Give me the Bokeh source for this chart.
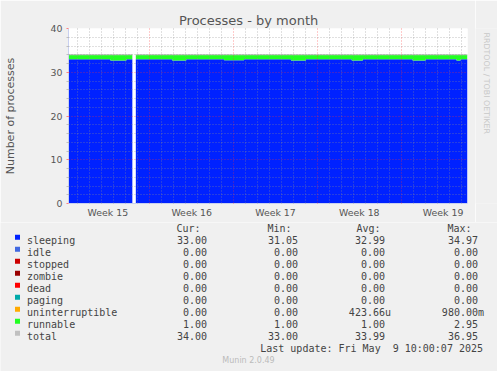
import math
from bokeh.plotting import figure
from bokeh.layouts import column, row
from bokeh.models import (ColumnDataSource, FixedTicker, Grid, LinearAxis, Range1d, Title)
from bokeh.core.properties import value
from bokeh.embed import file_html
from bokeh.resources import INLINE

NAN = float("nan")

# ---------------- data ----------------
# time axis: hours from the left edge of the month graph (800 h are shown)
graph_hours = 800
seg_start_h = [0, 84, 116, 128, 135, 208, 236, 312, 352, 446, 476, 568, 590, 690, 716, 778, 786]
sleeping = [33.0, 32.7, 33.0, NAN, 33.0, 32.7, 33.0, 32.75, 33.0, 32.7, 33.0, 32.7, 33.0, 32.7, 33.0, 32.7, 33.0]
runnable = [1.0, 1.3, 1.0, NAN, 1.0, 1.3, 1.0, 1.25, 1.0, 1.3, 1.0, 1.3, 1.0, 1.3, 1.0, 1.3, 1.0]
total = [34.0, 34.0, 34.0, NAN, 34.0, 34.0, 34.0, 34.0, 34.0, 34.0, 34.0, 34.0, 34.0, 34.0, 34.0, 34.0, 34.0]

week_labels = ["Week 15", "Week 16", "Week 17", "Week 18", "Week 19"]
week_center_h = [79, 247, 415, 583, 751]
week_boundary_h = [163, 331, 499, 667]
y_ticks = [0, 10, 20, 30, 40]
y_max = 40

legend_names = ["sleeping", "idle", "stopped", "zombie", "dead", "paging",
                "uninterruptible", "runnable", "total"]
legend_colors = ["#0022ff", "#4169e1", "#cc0000", "#990000", "#ff0000", "#00aaaa",
                 "#ffaa00", "#22ff22", "#c0c0c0"]
cur_vals = ["33.00", "0.00", "0.00", "0.00", "0.00", "0.00", "0.00", "1.00", "34.00"]
min_vals = ["31.05", "0.00", "0.00", "0.00", "0.00", "0.00", "0.00", "1.00", "33.00"]
avg_vals = ["32.99", "0.00", "0.00", "0.00", "0.00", "0.00", "423.66u", "1.00", "33.99"]
max_vals = ["34.97", "0.00", "0.00", "0.00", "0.00", "0.00", "980.00m", "2.95", "36.95"]
col_headers = ["Cur:", "Min:", "Avg:", "Max:"]
last_update = "Last update: Fri May  9 10:00:07 2025"
title_text = "Processes - by month"
y_label = "Number of processes"
side_text = "RRDTOOL / TOBI OETIKER"
footer_text = "Munin 2.0.49"

# ---------------- layout constants ----------------
W, H = 497, 371
FL, FR, FT, FB = 67, 467, 28, 203          # graph frame edges on the page
CHART_W, CHART_H = 475, 222
MONO = "DejaVu Sans Mono"
SANS = "DejaVu Sans"
TXT = "#555555"
LEG = "#444444"
BG = "#f0f0f0"

# ---------------- chart ----------------
p = figure(width=CHART_W, height=CHART_H, x_range=Range1d(0, graph_hours), y_range=Range1d(0, y_max),
           x_axis_type=None, y_axis_type=None, toolbar_location=None,
           output_backend="svg", min_border_left=FL, min_border_right=CHART_W - FR,
           min_border_top=FT, min_border_bottom=CHART_H - FB,
           background_fill_color="white", border_fill_color=BG, outline_line_color=None)
p.title = Title(text=title_text, align="left", offset=110.5, standoff=2,
                text_font=SANS, text_font_size="13px", text_font_style="normal",
                text_color=TXT)


def step_chunks(starts, end, *series):
    chunks, cur = [], None
    for i, t0 in enumerate(starts):
        t1 = starts[i + 1] if i + 1 < len(starts) else end
        vals = [s[i] for s in series]
        if any(math.isnan(v) for v in vals):
            cur = None
            continue
        if cur is None:
            cur = {"x": []}
            for k in range(len(series)):
                cur["s%d" % k] = []
            chunks.append(cur)
        cur["x"] += [t0, t1]
        for k, v in enumerate(vals):
            cur["s%d" % k] += [v, v]
    return chunks


for ch in step_chunks(seg_start_h, graph_hours, sleeping, runnable, total):
    ch["top"] = [a + b for a, b in zip(ch["s0"], ch["s1"])]
    src = ColumnDataSource(ch)
    p.varea(x="x", y1=0, y2="s0", source=src, fill_color="#0022ff", fill_alpha=1)
    p.varea(x="x", y1="s0", y2="top", source=src, fill_color="#22ff22", fill_alpha=1)
    p.line(x="x", y="s2", source=src, line_color="#c0c0c0", line_width=1)

day_minor = sorted(set(b + 24 * k for b in week_boundary_h for k in range(-7, 8)
                       if 0 < b + 24 * k < graph_hours) - set(week_boundary_h))
y_minor = [v for v in range(0, y_max + 1, 2) if v % 10 != 0]
for dim, major, minor in ((0, week_boundary_h, day_minor), (1, y_ticks, y_minor)):
    p.add_layout(Grid(dimension=dim, ticker=FixedTicker(ticks=major, minor_ticks=minor),
                      grid_line_color="#ff3030", grid_line_alpha=0.5, grid_line_dash="1 2",
                      minor_grid_line_color="#909090", minor_grid_line_alpha=0.55,
                      minor_grid_line_dash="1 2", level="overlay"))

yaxis = LinearAxis(ticker=FixedTicker(ticks=y_ticks, minor_ticks=y_minor),
                   axis_label=y_label, axis_label_text_font=SANS,
                   axis_label_text_font_size="11px", axis_label_text_font_style="normal",
                   axis_label_text_color=TXT, axis_label_standoff=31,
                   major_label_text_font=SANS, major_label_text_font_size="9.4px",
                   major_label_text_color=TXT, major_label_standoff=4,
                   major_tick_in=0, major_tick_out=2, major_tick_line_color="#ff8080",
                   minor_tick_in=0, minor_tick_out=2, minor_tick_line_color="#c0c0c0",
                   axis_line_color="#c8d0f0")
p.add_layout(yaxis, "left")

xaxis = LinearAxis(ticker=FixedTicker(ticks=week_center_h),
                   major_label_overrides=dict(zip(week_center_h, week_labels)),
                   major_label_text_font=SANS, major_label_text_font_size="9.4px",
                   major_label_text_color=TXT, major_label_standoff=3,
                   major_tick_in=0, major_tick_out=0, major_tick_line_color=None,
                   minor_tick_line_color=None, axis_line_color="#c8d0f0")
p.add_layout(xaxis, "below")

# ---------------- right-hand strip with the rrdtool credit ----------------
side = figure(width=W - CHART_W, height=CHART_H, x_range=Range1d(CHART_W, W),
              y_range=Range1d(CHART_H, 0), x_axis_type=None, y_axis_type=None,
              toolbar_location=None, output_backend="svg", min_border=0,
              background_fill_color=BG, border_fill_color=BG, outline_line_color=None)
side.text(x=[485.5], y=[5], text=[side_text], angle=-math.pi / 2,
          text_font=value(SANS), text_font_size="7.9px", text_color="#c8c8c8",
          text_align="left", text_baseline="alphabetic")

# ---------------- legend table below ----------------
leg = figure(width=W, height=H - CHART_H, x_range=Range1d(0, W), y_range=Range1d(H, CHART_H),
             x_axis_type=None, y_axis_type=None, toolbar_location=None, output_backend="svg",
             min_border=0, background_fill_color=BG, border_fill_color=BG,
             outline_line_color=None)

ROW0, ROWH = 239.7, 12
n = len(legend_names)
rows_y = [ROW0 + ROWH * i for i in range(n)]
mono = dict(text_font=value(MONO), text_font_size="10px", text_color=LEG,
            text_baseline="alphabetic")

leg.quad(left=[14.5] * n, right=[19.5] * n, top=[y - 5.5 for y in rows_y],
         bottom=[y - 0.5 for y in rows_y], fill_color=legend_colors, line_color=None)
leg.text(x=[26.5] * n, y=rows_y, text=legend_names, text_align="left", **mono)

col_right = [206.5, 297.5, 384.5, 477.5]
head_left = [176, 267, 356, 447]
CHW = 6.0
for vals, xr in zip([cur_vals, min_vals, avg_vals, max_vals], col_right):
    xs = [xr + (CHW if v[-1].isalpha() else 0) for v in vals]
    leg.text(x=xs, y=rows_y, text=vals, text_align="right", **mono)

leg.text(x=head_left, y=[ROW0 - ROWH] * 4, text=col_headers, text_align="left", **mono)
leg.text(x=[482.5], y=[ROW0 + ROWH * n], text=[last_update.replace(" ", "\u00a0")],
         text_align="right", **mono)
leg.text(x=[248], y=[359.7], text=[footer_text], text_font=value(SANS), text_font_size="8px",
         text_color="#bbbbbb", text_align="center", text_baseline="alphabetic")

layout = column(row(p, side, spacing=0), leg, spacing=0)
open("out.html", "w").write(file_html(layout, INLINE))
